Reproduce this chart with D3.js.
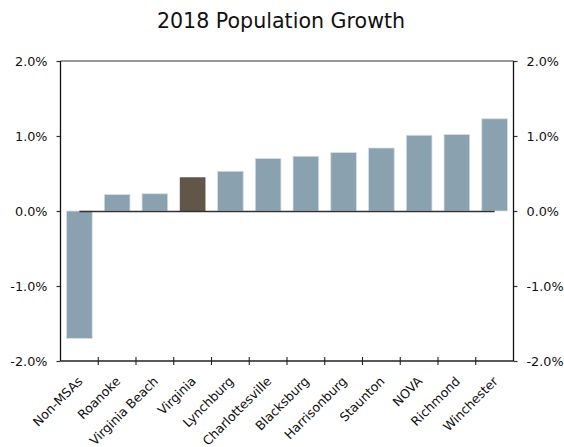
<!DOCTYPE html>
<html>
<head>
<meta charset="utf-8">
<script src="https://cdn.jsdelivr.net/npm/d3@7"></script>
<style>
  html, body { margin: 0; padding: 0; background: #fff; }
  svg { display: block; }
  text { font-family: "DejaVu Sans", Verdana, sans-serif; fill: #111; }
</style>
</head>
<body>
<svg id="chart" width="564" height="447"></svg>
<script>
const categories = ["Non-MSAs", "Roanoke", "Virginia Beach", "Virginia", "Lynchburg", "Charlottesville", "Blacksburg", "Harrisonburg", "Staunton", "NOVA", "Richmond", "Winchester"];
const growth = [-1.70, 0.22, 0.23, 0.45, 0.53, 0.70, 0.73, 0.78, 0.84, 1.01, 1.02, 1.23];
const highlight = ["Virginia"];
const yTicks = [-2, -1, 0, 1, 2];
const title = "2018 Population Growth";

const W = 564, H = 447;
const m = { left: 60.5, right: 513.5, top: 61, bottom: 361 };
const svg = d3.select("#chart");

const x = d3.scaleBand().domain(categories).range([m.left, m.right]).paddingInner(0.32).paddingOuter(0.16);
const y = d3.scaleLinear().domain([-2, 2]).range([m.bottom, m.top]);
const step = x.step();
const fmt = d => (d < 0 ? "-" : "") + Math.abs(d).toFixed(1) + "%";

// title
svg.append("text").attr("x", 281).attr("y", 28).attr("text-anchor", "middle")
  .style("font-size", "20.6px").text(title);

// bars
svg.append("g").selectAll("rect").data(categories).join("rect")
  .attr("x", d => x(d))
  .attr("width", x.bandwidth())
  .attr("y", (d, i) => y(Math.max(0, growth[i])))
  .attr("height", (d, i) => Math.abs(y(growth[i]) - y(0)))
  .attr("fill", d => highlight.includes(d) ? "#625649" : "#8aa1b0")
  .attr("stroke", d => highlight.includes(d) ? "none" : "#d6e0e7")
  .attr("stroke-width", 0.8);

// zero line from first to last band center
svg.append("line")
  .attr("x1", x(categories[0]) + x.bandwidth() / 2)
  .attr("x2", x(categories[categories.length - 1]) + x.bandwidth() / 2)
  .attr("y1", Math.round(y(0)) + 0.5).attr("y2", Math.round(y(0)) + 0.5)
  .attr("stroke", "#333").attr("stroke-width", 1.3);

// left axis
const left = svg.append("g").attr("transform", `translate(${m.left},0)`)
  .call(d3.axisLeft(y).tickValues(yTicks).tickFormat(fmt).tickSize(4).tickPadding(9));
// right axis
const right = svg.append("g").attr("transform", `translate(${m.right},0)`)
  .call(d3.axisRight(y).tickValues(yTicks).tickFormat(fmt).tickSize(4).tickPadding(9));
[left, right].forEach(g => {
  g.select(".domain").remove();
  g.selectAll(".tick line").attr("stroke", "#333").attr("stroke-width", 1.2);
  g.selectAll(".tick text").style("font-size", "12.8px").style("font-family", "DejaVu Sans, Verdana, sans-serif").attr("fill", "#111");
});

// frame
svg.append("line").attr("x1", m.left).attr("x2", m.left).attr("y1", m.top).attr("y2", m.bottom).attr("stroke", "#111").attr("stroke-width", 1.3);
svg.append("line").attr("x1", m.right).attr("x2", m.right).attr("y1", m.top).attr("y2", m.bottom).attr("stroke", "#111").attr("stroke-width", 1.3);
svg.append("line").attr("x1", m.left).attr("x2", m.right).attr("y1", m.top).attr("y2", m.top).attr("stroke", "#333").attr("stroke-width", 1.2);
svg.append("line").attr("x1", m.left).attr("x2", m.right).attr("y1", m.bottom).attr("y2", m.bottom).attr("stroke", "#222").attr("stroke-width", 1.4);

// category boundary ticks crossing bottom axis
const bounds = d3.range(1, categories.length).map(i => m.left + i * step);
svg.append("g").selectAll("line").data(bounds).join("line")
  .attr("x1", d => d).attr("x2", d => d)
  .attr("y1", m.bottom - 4).attr("y2", m.bottom + 4)
  .attr("stroke", "#222").attr("stroke-width", 1.1);

// category labels
svg.append("g").selectAll("text").data(categories).join("text")
  .attr("transform", d => `translate(${x(d) + x.bandwidth() / 2 + 4},${m.bottom + 21}) rotate(-45)`)
  .attr("text-anchor", "end")
  .style("font-size", "12.6px").text(d => d);
</script>
</body>
</html>
